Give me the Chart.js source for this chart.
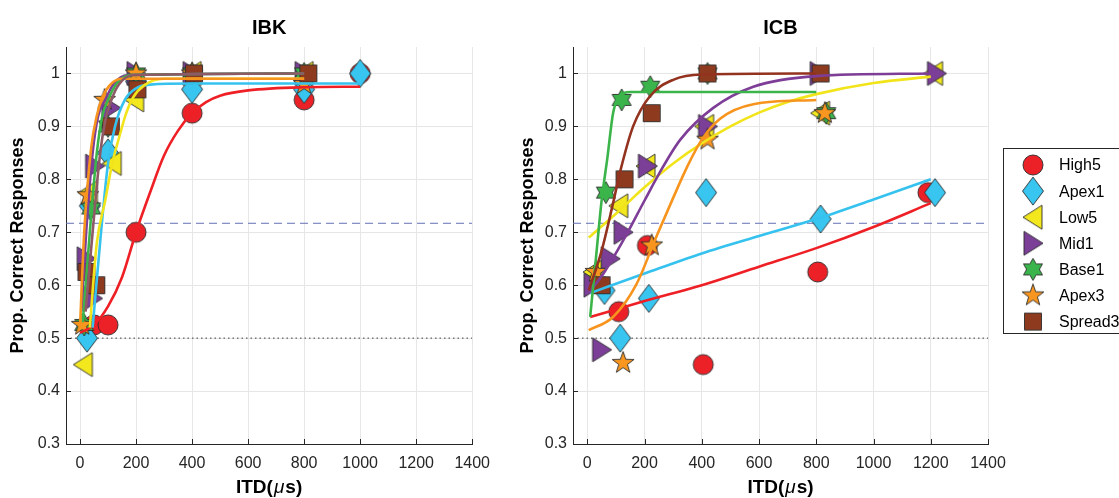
<!DOCTYPE html>
<html>
<head>
<meta charset="utf-8">
<script src="https://cdn.jsdelivr.net/npm/chart.js@4.4.0/dist/chart.umd.min.js"></script>
<style>
  html, body { margin: 0; padding: 0; background: #fff; overflow: hidden; width: 1119px; height: 498px; }
  #ibk { position: absolute; left: 0; top: 0; }
  #icb { position: absolute; left: 507px; top: 0; }
</style>
</head>
<body>
<canvas id="ibk" width="500" height="498"></canvas>
<canvas id="icb" width="612" height="498"></canvas>
<script>
// ---- data: [ITD in us, proportion correct] ----
const CONDITIONS = ['High5', 'Apex1', 'Low5', 'Mid1', 'Base1', 'Apex3', 'Spread3'];
const X_TICKS = [0, 200, 400, 600, 800, 1000, 1200, 1400];
const Y_TICKS = [0.3, 0.4, 0.5, 0.6, 0.7, 0.8, 0.9, 1];
const X_MIN = -50, X_MAX = 1400, Y_MIN = 0.3, Y_MAX = 1.05;
const THRESHOLD = 0.717;   // dashed line
const CHANCE = 0.5;        // dotted line

// IBK measured points
const IBK_HIGH5   = [[50,0.525],[100,0.525],[200,0.70],[400,0.925],[800,0.95],[1000,1.0]];
const IBK_APEX1   = [[25,0.50],[35,0.75],[100,0.85],[200,0.985],[400,0.97],[800,0.97],[1000,1.0]];
const IBK_LOW5    = [[12,0.45],[30,0.775],[115,0.83],[195,0.95],[400,1.0],[800,1.0]];
const IBK_MID1    = [[22,0.65],[45,0.575],[52,0.825],[110,0.935],[200,1.0],[400,1.0],[800,1.0]];
const IBK_BASE1   = [[15,0.525],[40,0.745],[100,0.90],[200,1.0],[400,1.0],[800,1.0]];
const IBK_APEX3   = [[8,0.525],[28,0.77],[88,0.95],[200,1.0],[400,1.0],[800,0.98]];
const IBK_SPREAD3 = [[23,0.625],[58,0.60],[110,0.90],[205,0.97],[407,1.0],[815,1.0]];

// IBK fitted curves
const IBK_HIGH5_FIT   = [[0,0.51],[50,0.525],[100,0.56],[150,0.615],[200,0.70],[250,0.775],[300,0.845],[350,0.892],[400,0.925],[450,0.946],[500,0.958],[600,0.968],[800,0.974],[1000,0.975]];
const IBK_APEX1_FIT   = [[45,0.52],[75,0.70],[100,0.83],[125,0.90],[160,0.95],[200,0.972],[250,0.979],[400,0.981],[1000,0.981]];
const IBK_LOW5_FIT    = [[35,0.52],[60,0.68],[90,0.76],[115,0.83],[140,0.88],[165,0.925],[190,0.955],[230,0.978],[300,0.99],[800,0.99]];
const IBK_MID1_FIT    = [[5,0.55],[22,0.70],[45,0.85],[65,0.92],[90,0.95],[120,0.98],[170,0.997],[800,1.0]];
const IBK_BASE1_FIT   = [[10,0.53],[35,0.70],[60,0.85],[80,0.92],[100,0.95],[130,0.98],[180,0.997],[800,1.0]];
const IBK_APEX3_FIT   = [[0,0.52],[15,0.70],[40,0.86],[60,0.92],[80,0.955],[110,0.98],[150,0.99],[800,0.99]];
const IBK_SPREAD3_FIT = [[20,0.55],[45,0.70],[70,0.84],[90,0.91],[112,0.95],[140,0.98],[190,0.997],[800,1.0]];

// ICB measured points
const ICB_HIGH5   = [[110,0.55],[210,0.675],[405,0.45],[805,0.625],[1190,0.775]];
const ICB_APEX1   = [[60,0.59],[115,0.50],[215,0.575],[415,0.775],[815,0.725],[1215,0.775]];
const ICB_LOW5    = [[20,0.625],[110,0.75],[205,0.825],[410,0.90],[815,0.925],[1210,1.0]];
const ICB_MID1    = [[20,0.60],[50,0.478],[80,0.65],[125,0.70],[210,0.825],[420,0.90],[810,1.0],[1220,1.0]];
const ICB_BASE1   = [[65,0.775],[120,0.95],[220,0.975],[420,1.0],[835,0.925]];
const ICB_APEX3   = [[30,0.625],[125,0.453],[225,0.675],[420,0.875],[830,0.925]];
const ICB_SPREAD3 = [[50,0.60],[130,0.80],[225,0.925],[420,1.0],[815,1.0]];

// ICB fitted curves
const ICB_HIGH5_FIT   = [[10,0.54],[200,0.57],[400,0.60],[600,0.635],[800,0.67],[1000,0.71],[1200,0.755]];
const ICB_APEX1_FIT   = [[10,0.585],[200,0.622],[400,0.66],[600,0.693],[800,0.725],[1000,0.762],[1200,0.80]];
const ICB_LOW5_FIT    = [[5,0.69],[100,0.735],[200,0.785],[300,0.83],[400,0.868],[500,0.90],[600,0.926],[700,0.946],[800,0.961],[1000,0.982],[1200,0.994]];
const ICB_MID1_FIT    = [[5,0.585],[60,0.625],[126,0.685],[200,0.76],[250,0.81],[325,0.875],[440,0.935],[580,0.975],[800,0.995],[1200,1.0]];
const ICB_BASE1_FIT   = [[10,0.54],[30,0.65],[50,0.76],[70,0.84],[90,0.925],[110,0.955],[150,0.965],[800,0.965]];
const ICB_APEX3_FIT   = [[5,0.515],[90,0.54],[170,0.60],[240,0.69],[300,0.765],[350,0.825],[400,0.875],[465,0.915],[580,0.942],[800,0.95]];
const ICB_SPREAD3_FIT = [[5,0.59],[50,0.665],[90,0.755],[115,0.815],[160,0.90],[220,0.958],[300,0.988],[400,0.998],[800,1.0]];

// ---- styling ----
const FONT = '"Liberation Sans", Arial, Helvetica, sans-serif';
const FILLS = ['#ec2127', '#38c5f0', '#f2e81d', '#7b3f98', '#3bb44b', '#f8961f', '#8e3a1f'];
const IBK_LINE_COLORS = ['#ee1f25', '#35c2ee', '#f2e41b', '#7e3d97', '#3bb54a', '#f7941e', '#8d5a66'];
const ICB_LINE_COLORS = ['#ee1f25', '#35c2ee', '#f2e41b', '#7e3d97', '#3bb54a', '#f7941e', '#93331f'];
const SHAPES = ['circle', 'diamond', 'left', 'right', 'hex', 'pent', 'square'];

function starPath(g, n, R, r) {
  for (let i = 0; i < 2 * n; i++) {
    const a = -Math.PI / 2 + i * Math.PI / n;
    const rr = i % 2 === 0 ? R : r;
    if (i === 0) g.moveTo(rr * Math.cos(a), rr * Math.sin(a));
    else g.lineTo(rr * Math.cos(a), rr * Math.sin(a));
  }
  g.closePath();
}

function marker(shape, fill) {
  const c = document.createElement('canvas');
  c.width = 32; c.height = 32;
  const g = c.getContext('2d');
  g.translate(16, 16);
  g.beginPath();
  if (shape === 'circle') g.arc(0, 0, 10, 0, 2 * Math.PI);
  if (shape === 'diamond') { g.moveTo(0, -14); g.lineTo(10.5, 0); g.lineTo(0, 14); g.lineTo(-10.5, 0); g.closePath(); }
  if (shape === 'left') { g.moveTo(-10, 0); g.lineTo(9, -12); g.lineTo(9, 12); g.closePath(); }
  if (shape === 'right') { g.moveTo(10, 0); g.lineTo(-9, -12); g.lineTo(-9, 12); g.closePath(); }
  if (shape === 'hex') starPath(g, 6, 11, 6.35);
  if (shape === 'pent') starPath(g, 5, 11.5, 4.6);
  if (shape === 'square') g.rect(-8.5, -8.5, 17, 17);
  g.fillStyle = fill;
  g.fill();
  g.lineWidth = 0.9;
  g.strokeStyle = '#2b2b2b';
  g.stroke();
  return c;
}
const MARKERS = SHAPES.map((s, i) => marker(s, FILLS[i]));

const toXY = arr => arr.map(p => ({ x: p[0], y: p[1] }));

function refLine(yv, color, dash) {
  return { type: 'line', label: 'ref', data: toXY([[X_MIN, yv], [X_MAX, yv]]),
    borderColor: color, borderWidth: 1, borderDash: dash, pointRadius: 0, fill: false };
}

function panelDatasets(points, fits, lineColors) {
  const ds = [refLine(THRESHOLD, '#6570b5', [8, 5]), refLine(CHANCE, '#3a3a3a', [1.5, 3])];
  CONDITIONS.forEach((name, i) => ds.push({
    type: 'scatter', label: name, data: toXY(points[i]),
    pointStyle: MARKERS[i], pointRadius: 10, showLine: false, clip: false
  }));
  CONDITIONS.forEach((name, i) => ds.push({
    type: 'line', label: name + ' fit', data: toXY(fits[i]),
    borderColor: lineColors[i], borderWidth: 2.6, pointRadius: 0,
    cubicInterpolationMode: 'monotone', fill: false
  }));
  // later datasets are drawn on top
  ds.forEach((d, k) => { d.order = ds.length - k; });
  return ds;
}

// MATLAB-style inward tick marks
const inTicks = {
  id: 'inTicks',
  afterDraw(chart) {
    const { ctx, chartArea: a, scales: { x, y } } = chart;
    ctx.save();
    ctx.strokeStyle = '#262626';
    ctx.lineWidth = 1;
    ctx.beginPath();
    x.ticks.forEach(t => {
      const p = Math.round(x.getPixelForValue(t.value)) + 0.5;
      ctx.moveTo(p, a.bottom); ctx.lineTo(p, a.bottom - 5);
    });
    y.ticks.forEach(t => {
      const p = Math.round(y.getPixelForValue(t.value)) + 0.5;
      ctx.moveTo(a.left, p); ctx.lineTo(a.left + 5, p);
    });
    ctx.stroke();
    ctx.restore();
  }
};

// x label "ITD(μs)" with an italic, non-bold μ
const xLabel = {
  id: 'xLabel',
  afterDraw(chart) {
    const { ctx, chartArea: a } = chart;
    const parts = [['ITD(', 'bold 19px '], ['μ', 'italic 19px '], ['s)', 'bold 19px ']];
    ctx.save();
    ctx.fillStyle = '#000';
    ctx.textBaseline = 'middle';
    let total = 0;
    parts.forEach(p => { ctx.font = p[1] + FONT; total += ctx.measureText(p[0]).width + (p[0] === 'μ' ? 2 : 0); });
    let x = (a.left + a.right) / 2 - total / 2;
    parts.forEach(p => {
      ctx.font = p[1] + FONT;
      ctx.fillText(p[0], x + (p[0] === 'μ' ? 1 : 0), 488);
      x += ctx.measureText(p[0]).width + (p[0] === 'μ' ? 2 : 0);
    });
    ctx.restore();
  }
};

// boxed legend at the right of the ICB panel
const boxLegend = {
  id: 'boxLegend',
  afterDraw(chart) {
    const ctx = chart.ctx;
    const left = 496, top = 148, rowH = 26.1, firstY = 165;
    ctx.save();
    ctx.fillStyle = '#fff';
    ctx.fillRect(left, top, 140, 185);
    ctx.strokeStyle = '#262626';
    ctx.lineWidth = 1;
    ctx.strokeRect(left + 0.5, top + 0.5, 140, 185);
    ctx.font = '16px ' + FONT;
    ctx.fillStyle = '#000';
    ctx.textBaseline = 'middle';
    CONDITIONS.forEach((name, i) => {
      const cy = firstY + i * rowH;
      Chart.helpers.drawPoint(ctx, { pointStyle: MARKERS[i], radius: 10, rotation: 0, borderWidth: 0 }, 526, cy);
      ctx.fillText(name, 552, cy + 1);
    });
    ctx.restore();
  }
};

function makeChart(id, title, datasets, rightPad, yTitleOffset, extra) {
  return new Chart(document.getElementById(id), {
    type: 'scatter',
    data: { datasets },
    options: {
      responsive: false,
      animation: false,
      events: [],
      layout: { padding: { left: 0, right: rightPad, top: 0, bottom: 0 } },
      plugins: {
        legend: { display: false },
        tooltip: { enabled: false },
        title: {
          display: true, text: title, fullSize: false, color: '#000',
          font: { family: FONT, size: 20, weight: 'bold', lineHeight: 1.2 },
          padding: { top: 16, bottom: 7 }
        }
      },
      scales: {
        x: {
          type: 'linear', min: X_MIN, max: X_MAX,
          afterBuildTicks: s => { s.ticks = X_TICKS.map(v => ({ value: v })); },
          afterFit: s => { s.height = 54; },
          grid: { color: '#e6e6e6', drawTicks: false },
          border: { color: '#262626', width: 1 },
          ticks: { color: '#262626', font: { family: FONT, size: 16 }, padding: 10, maxRotation: 0, callback: v => String(v) },
          title: { display: false }
        },
        y: {
          type: 'linear', min: Y_MIN, max: Y_MAX,
          afterBuildTicks: s => { s.ticks = Y_TICKS.map(v => ({ value: v })); },
          afterFit: s => { s.width = 66; },
          grid: { color: '#e6e6e6', drawTicks: false },
          border: { color: '#262626', width: 1 },
          ticks: { color: '#262626', font: { family: FONT, size: 16 }, padding: 6, callback: v => String(v) },
          title: { display: true, text: 'Prop. Correct Responses', color: '#000',
            font: { family: FONT, size: 18, weight: 'bold', lineHeight: 1.2 }, padding: { top: yTitleOffset, bottom: 0 } }
        }
      }
    },
    plugins: [inTicks, xLabel].concat(extra)
  });
}

makeChart('ibk', 'IBK',
  panelDatasets(
    [IBK_HIGH5, IBK_APEX1, IBK_LOW5, IBK_MID1, IBK_BASE1, IBK_APEX3, IBK_SPREAD3],
    [IBK_HIGH5_FIT, IBK_APEX1_FIT, IBK_LOW5_FIT, IBK_MID1_FIT, IBK_BASE1_FIT, IBK_APEX3_FIT, IBK_SPREAD3_FIT],
    IBK_LINE_COLORS),
  20, 7, []);

makeChart('icb', 'ICB',
  panelDatasets(
    [ICB_HIGH5, ICB_APEX1, ICB_LOW5, ICB_MID1, ICB_BASE1, ICB_APEX3, ICB_SPREAD3],
    [ICB_HIGH5_FIT, ICB_APEX1_FIT, ICB_LOW5_FIT, ICB_MID1_FIT, ICB_BASE1_FIT, ICB_APEX3_FIT, ICB_SPREAD3_FIT],
    ICB_LINE_COLORS),
  131, 10, [boxLegend]);
</script>
</body>
</html>
